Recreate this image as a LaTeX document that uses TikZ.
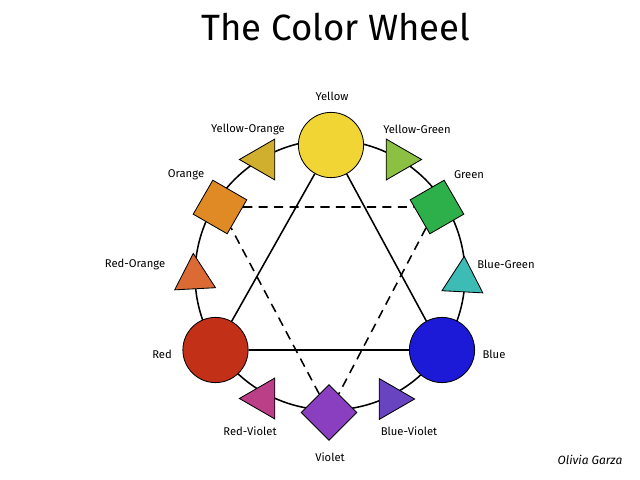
\documentclass[tikz,border=0pt]{standalone}
\usepackage{fontspec}
\setmainfont{Fira Sans}
\usepackage{tikz}
\usetikzlibrary{shapes.geometric}

\definecolor{cyellow}{RGB}{240,213,53}
\definecolor{cyelloworange}{RGB}{208,174,46}
\definecolor{cyellowgreen}{RGB}{139,192,67}
\definecolor{corange}{RGB}{224,138,37}
\definecolor{cgreen}{RGB}{45,175,74}
\definecolor{credorange}{RGB}{219,106,53}
\definecolor{cbluegreen}{RGB}{61,187,181}
\definecolor{cred}{RGB}{194,48,24}
\definecolor{cblue}{RGB}{28,26,214}
\definecolor{credviolet}{RGB}{187,63,135}
\definecolor{cviolet}{RGB}{138,63,192}
\definecolor{cblueviolet}{RGB}{105,68,192}

\tikzset{
	hue/.style={draw=black, line width=0.6pt, inner sep=0pt},
	primary/.style={hue, circle, minimum size=1.63cm},
	secondary/.style={hue, rectangle, minimum size=0.98cm},
	tertiary/.style={hue, regular polygon, regular polygon sides=3, minimum size=1.18cm},
	huename/.style={font=\fontsize{8}{9}\selectfont},
	link/.style={line width=1.1pt},
}

\begin{document}
\begin{tikzpicture}[x=0.025cm, y=0.025cm]
		\useasboundingbox (0,0) rectangle (640,480);
		\coordinate (C) at (330,205);
		\draw[link] (C) circle[radius=135];
		% primary colours
		\node[primary, fill=cyellow] (yel) at (331,335) {};
		\node[primary, fill=cred] (red) at (215.5,130) {};
		\node[primary, fill=cblue] (blu) at (442,130) {};
		% secondary colours
		\node[secondary, fill=corange, rotate=-30] (ora) at (220,273) {};
		\node[secondary, fill=cgreen, rotate=30] (gre) at (437,273) {};
		\node[secondary, fill=cviolet, rotate=45] (vio) at (329,67.5) {};
		% tertiary colours
		\node[tertiary, fill=cyelloworange, rotate=90] (yo) at (263,320.5) {};
		\node[tertiary, fill=cyellowgreen, rotate=-90] (yg) at (398,320.5) {};
		\node[tertiary, fill=credorange, rotate=3] (ro) at (194.5,203) {};
		\node[tertiary, fill=cbluegreen, rotate=-3] (bg) at (463,200) {};
		\node[tertiary, fill=credviolet, rotate=90] (rv) at (263,81.5) {};
		\node[tertiary, fill=cblueviolet, rotate=-90] (bv) at (391,81) {};
		% triads
		\draw[link] (yel) -- (red) -- (blu) -- (yel);
		\draw[link, dash pattern=on 6.5pt off 4.5pt] (ora) -- (gre);
		\draw[link, dash pattern=on 6.5pt off 4.5pt] (gre) -- (vio);
		\draw[link, dash pattern=on 6.5pt off 4.5pt] (vio) -- (ora);
		% names
		\node[huename] (lyel) at (332,384) {Yellow};
		\node[huename] (lyo) at (248,351) {Yellow-Orange};
		\node[huename] (lyg) at (417,351) {Yellow-Green};
		\node[huename] (lora) at (186,305) {Orange};
		\node[huename] (lgre) at (469,305) {Green};
		\node[huename] (lro) at (135,216) {Red-Orange};
		\node[huename] (lbg) at (506,216) {Blue-Green};
		\node[huename] (lred) at (162,126) {Red};
		\node[huename] (lblu) at (494,126) {Blue};
		\node[huename] (lrv) at (250,49) {Red-Violet};
		\node[huename] (lbv) at (409,49) {Blue-Violet};
		\node[huename] (lvio) at (330,23) {Violet};
		\node[font=\fontsize{26}{30}\selectfont] (title) at (336,453) {The Color Wheel};
		\node[font=\fontsize{8.5}{10}\selectfont\itshape] (author) at (590,20) {Olivia Garza};
\end{tikzpicture}
\end{document}
